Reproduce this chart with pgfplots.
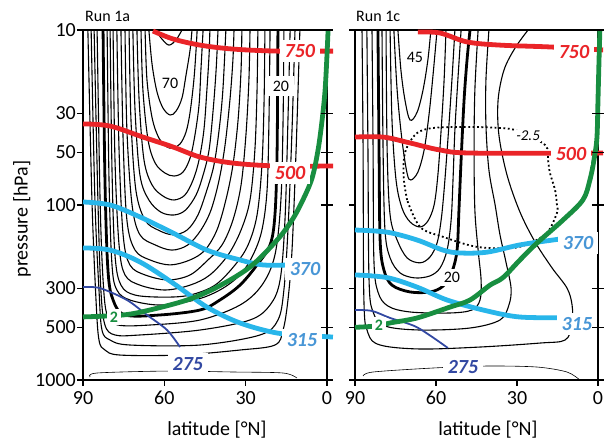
\documentclass[border=0pt]{standalone}
\usepackage{pgfplots}
\pgfplotsset{compat=1.18}
\usepackage{fontspec}
\setmainfont{Carlito}

\definecolor{isored}{RGB}{234,36,40}
\definecolor{isocyan}{RGB}{40,182,234}
\definecolor{isocyantxt}{RGB}{72,150,214}
\definecolor{isonavy}{RGB}{50,72,162}
\definecolor{pvgreen}{RGB}{24,142,64}

\pgfplotsset{
  windcont/.style={black, line width=1.1pt, smooth, tension=0.55},
  windthick/.style={black, line width=2.8pt, smooth, tension=0.55},
  groundline/.style={black, line width=0.6pt, smooth},
  windneg/.style={black, line width=1.8pt, dash pattern=on 1.8pt off 2.6pt, smooth, tension=0.55},
  isentrope/.style={line width=4.8pt, smooth, tension=0.55},
}
\tikzset{
  thetalab/.style={fill=white, inner xsep=5pt, inner ysep=4pt,
    font=\fontsize{20}{24}\selectfont\bfseries\itshape},
  pvlab/.style={fill=white, inner xsep=3pt, inner ysep=3pt, text=pvgreen,
    font=\fontsize{16}{18}\selectfont\bfseries},
  ulab/.style={inner sep=1pt, font=\fontsize{16}{18}\selectfont},
  rtick/.style={line width=1.1pt},
}

\begin{document}
\begin{tikzpicture}
\path (0,0) rectangle (607pt,442pt);

% ---------------- Run 1a ----------------
\begin{axis}[
    at={(83pt,62pt)}, anchor=south west, scale only axis,
    width=244pt, height=350pt,
    xmin=0, xmax=90, x dir=reverse,
    ymode=log, ymin=10, ymax=1000, y dir=reverse,
    xtick={0,30,60,90}, xticklabels={0,30,60,90},
    ytick={10,30,50,100,300,500,1000},
    yticklabels={10,30,50,100,300,500,1000},
    yminorticks=false,
    xtick pos=lower, ytick pos=left,
    tick align=outside, major tick length=6pt,
    axis line style={line width=1.1pt},
    tick style={line width=1.1pt, black},
    tick label style={font=\fontsize{20}{24}\selectfont, inner sep=1pt},
    xticklabel style={yshift=-4pt},
    clip=false]
% zonal wind contours
\addplot[windcont] coordinates {(88.2,10)(86.7,93.6)(85.2,349)(84.1,591)(81.9,674)(76.4,720)(54.2,720)(32.1,674)(19.2,631)(16.2,518)(14.4,349)(12.9,181)(11.4,48.5)(10.0,10)};
\addplot[windcont] coordinates {(87.0,10)(85.6,93.6)(84.1,306)(83.0,518)(80.0,591)(72.7,631)(46.8,631)(24.7,553)(18.1,454)(15.9,306)(14.4,139)(12.9,37.3)(11.8,10)};
\addplot[windcont] coordinates {(85.9,10)(84.5,93.6)(83.4,306)(81.9,485)(78.2,553)(69.0,553)(46.8,518)(28.4,454)(21.0,373)(17.3,268)(15.5,122)(14.4,32.7)(13.6,10)};
\addplot[windcont] coordinates {(84.8,10)(83.7,93.6)(82.6,268)(81.1,425)(77.1,485)(65.3,485)(46.8,454)(32.1,373)(24.0,287)(19.2,193)(17.0,93.6)(16.2,32.7)(15.9,10)};
\addplot[windthick] coordinates {(82.6,10)(81.9,72)(80.8,235)(78.9,349)(74.5,425)(61.6,425)(46.8,398)(39.5,349)(32.1,287)(25.8,220)(21.0,169)(19.2,114)(18.4,48.5)(18.1,10)};
\addplot[windcont] coordinates {(81.1,10)(80.4,72)(79.3,220)(77.5,306)(72.7,349)(61.6,373)(48.7,349)(39.5,306)(32.1,251)(27.3,193)(24.0,139)(22.1,82.1)(21.4,32.7)(21.0,10)};
\addplot[windcont] coordinates {(80.0,10)(79.3,63.1)(78.2,193)(76.0,287)(70.8,327)(59.8,336)(50.5,327)(41.3,287)(33.9,220)(29.1,169)(25.8,114)(24.0,59.1)(23.2,25.1)(22.9,10)};
\addplot[windcont] coordinates {(78.9,10)(78.2,55.3)(76.7,169)(74.5,251)(69.0,287)(59.8,306)(50.5,287)(43.2,251)(36.5,193)(31.7,139)(28.4,93.6)(26.6,48.5)(25.8,22.0)(25.5,10)};
\addplot[windcont] coordinates {(77.5,10)(76.7,48.5)(75.2,148)(72.7,220)(67.1,251)(58.6,268)(50.5,251)(43.9,206)(38.7,169)(34.7,122)(31.7,76.9)(29.9,39.8)(28.8,19.3)(28.4,10)};
\addplot[windcont] coordinates {(76.0,10)(75.2,42.5)(73.8,122)(70.8,181)(65.3,206)(57.9,220)(50.5,206)(45.0,181)(40.6,139)(37.3,93.6)(34.7,59.1)(32.8,32.7)(31.7,16.9)(31.4,10)};
\addplot[windcont] coordinates {(74.5,10)(73.8,37.3)(71.9,100)(69.0,148)(63.4,169)(57.2,181)(51.3,169)(46.5,139)(42.8,107)(39.8,72)(37.6,45.4)(35.8,25.1)(34.7,14.8)(34.3,10)};
\addplot[windcont] coordinates {(73.0,10)(72.3,32.7)(70.5,82.1)(67.1,122)(62.3,139)(56.8,148)(51.6,139)(47.6,114)(44.3,82.1)(41.7,59.1)(39.8,37.3)(38.4,22.0)(37.3,10)};
\addplot[windcont] coordinates {(71.6,10)(70.8,28.7)(69.0,67.4)(65.7,93.6)(61.2,110)(56.4,114)(52.2,107)(48.3,87.7)(45.7,67.4)(43.5,48.5)(42.0,28.7)(40.9,16.9)(40.2,10)};
\addplot[windcont] coordinates {(70.1,10)(69.3,25.1)(67.5,55.3)(64.5,76.9)(60.5,88.9)(56.4,93.6)(52.4,87.7)(49.4,72)(47.2,55.3)(45.4,37.3)(44.3,22.0)(43.5,13.9)(43.2,10)};
\addplot[windcont] coordinates {(68.6,10)(67.9,22.0)(66.0,42.5)(63.4,57.5)(59.8,65.6)(56.4,68.3)(53.1,64.8)(50.5,53.9)(48.7,39.8)(47.2,26.8)(46.5,16.9)(45.7,10)};
\addplot[windcont] coordinates {(67.1,10)(66.4,19.3)(64.5,31.8)(62.0,41.4)(59.0,46.6)(56.8,47.2)(54.2,44.8)(52.0,38.3)(50.5,29.5)(49.1,19.3)(48.3,13.0)(47.9,10)};
\addplot[windcont] coordinates {(65.7,10)(64.5,15.8)(62.7,22.6)(60.5,27.9)(57.9,30.6)(55.7,29.1)(53.5,24.5)(52.0,18.1)(50.5,13.0)(49.8,10)};
\addplot[windcont] coordinates {(63.4,10)(60.9,11.25)(58.3,12.2)(55.7,11.4)(53.5,10)};
\addplot[groundline] coordinates {(87.4,961)(84.8,912)(59.0,889)(34.7,900)(16.2,912)(11.1,974)};
% isentropes and dynamical tropopause
\addplot[isentrope, isored] coordinates {(64.2,10.13)(56.8,11.25)(46.8,12.2)(34.7,12.85)(18.4,13.2)(0,13.2)(-2.2,13.2)};
\addplot[isentrope, isored] coordinates {(90,34.4)(80.0,35.4)(67.9,40.9)(56.8,46.6)(46.8,53.2)(34.7,57.6)(18.4,59.9)(0,59.9)(-2.2,59.9)};
\addplot[isentrope, isocyan] coordinates {(90,96.1)(80.0,100)(69.0,117)(56.8,144.6)(44.3,181)(32.1,206)(23.6,220)(13.6,220)};
\addplot[isentrope, isocyan] coordinates {(90,176)(80.0,181)(69.0,211.5)(56.8,279.5)(44.3,383)(32.1,472)(18.4,539)(5,560)(-2.2,568)};
\addplot[isonavy, line width=1.8pt, smooth] coordinates {(90,294.7)(83.7,298.6)(73.8,349)(66.4,425)(59.0,518)(54.2,648)};
\addplot[isentrope, pvgreen] coordinates {(90,436)(75.2,425)(65.3,398)(51.6,349)(40.6,295)(28.4,226)(18.4,158.5)(12.9,122)(8.9,93.6)(5.5,70.1)(3.3,48.5)(1.8,32.7)(0.7,22)(0,13.9)(-0.4,10)};
% labels
\node[thetalab, text=isored] at (axis cs:10.0,13.2) {750};
\node[thetalab, text=isored] at (axis cs:13.6,65.6) {500};
\node[thetalab, text=isocyantxt] at (axis cs:8.1,232) {370};
\node[thetalab, text=isocyantxt] at (axis cs:9.2,591) {315};
\node[thetalab, text=isonavy] at (axis cs:51.3,810) {275};
\node[pvlab] at (axis cs:78.6,436) {2};
\node[ulab] at (axis cs:57.9,20.1) {70};
\node[ulab, fill=white, inner xsep=5pt, inner ysep=5pt] at (axis cs:17.0,20.9) {20};
% crossing ticks on the right frame
\draw[rtick] (axis cs:0,10) ++(-6pt,0pt) -- ++(12pt,0pt);
\draw[rtick] (axis cs:0,30) ++(-6pt,0pt) -- ++(12pt,0pt);
\draw[rtick] (axis cs:0,50) ++(-6pt,0pt) -- ++(12pt,0pt);
\draw[rtick] (axis cs:0,100) ++(-6pt,0pt) -- ++(12pt,0pt);
\draw[rtick] (axis cs:0,300) ++(-6pt,0pt) -- ++(12pt,0pt);
\draw[rtick] (axis cs:0,500) ++(-6pt,0pt) -- ++(12pt,0pt);
\draw[rtick] (axis cs:0,1000) ++(-6pt,0pt) -- ++(12pt,0pt);
\end{axis}

% ---------------- Run 1c ----------------
\begin{axis}[
    at={(355pt,62pt)}, anchor=south west, scale only axis,
    width=243pt, height=350pt,
    xmin=0, xmax=90, x dir=reverse,
    ymode=log, ymin=10, ymax=1000, y dir=reverse,
    xtick={0,30,60,90}, xticklabels={0,30,60,90},
    ytick={10,30,50,100,300,500,1000},
    yticklabels={},
    yminorticks=false,
    xtick pos=lower, ytick pos=left,
    tick align=outside, major tick length=6pt,
    axis line style={line width=1.1pt},
    tick style={line width=1.1pt, black},
    tick label style={font=\fontsize{20}{24}\selectfont, inner sep=1pt},
    xticklabel style={yshift=-4pt},
    clip=false]
\addplot[windcont] coordinates {(87.4,10)(87.0,48.5)(86.7,349)(85.2,539)(80.7,631)(65.9,665)(43.7,648)(21.5,615)(12.2,591)(9.6,485)(9.6,373)(11.5,298)(17.0,229)(23.3,162.7)(28.9,109.7)(33.7,67.4)(36.7,39.8)(37.0,25.1)(34.8,16.9)(30.7,12.66)(25.9,10)};
\addplot[windcont] coordinates {(85.6,10)(85.2,48.5)(84.8,268)(83.3,408.6)(78.9,491)(65.9,518)(47.4,504.5)(36.3,454)(33.0,373)(32.2,298.6)(34.1,211.5)(36.3,148)(38.1,100)(40.4,63.1)(41.5,34.9)(41.5,19.3)(40.4,10)};
\addplot[windcont] coordinates {(83.7,10)(83.3,48.5)(83.0,206)(81.5,314)(77.8,378)(69.6,408.6)(54.8,414)(46.7,398)(43.7,349)(43.3,268)(44.4,181)(45.6,107)(45.9,48.5)(45.6,22.0)(44.4,10)};
\addplot[windthick] coordinates {(81.5,10)(81.1,48.5)(80.7,158.5)(79.3,235)(76.3,287)(69.6,314)(62.2,314)(57.4,290.8)(54.1,241)(52.2,181)(51.5,107)(50.7,55.3)(49.6,25.1)(48.5,14.8)(47.4,10)};
\addplot[windcont] coordinates {(80.0,10)(79.6,48.5)(78.9,139)(77.0,200.6)(73.3,244.5)(67.8,261)(62.2,254)(58.5,229)(55.9,181)(54.4,122)(53.7,72)(53.0,37.3)(51.9,19.3)(50.7,10)};
\addplot[windcont] coordinates {(78.5,10)(78.1,48.5)(77.0,114)(74.4,158.5)(70.7,200.6)(65.9,214)(62.2,198)(59.6,164.6)(58.1,122)(57.0,82.1)(55.6,42.5)(54.1,19.3)(53.0,10)};
\addplot[windcont] coordinates {(77.0,10)(76.3,32.7)(74.8,72)(72.6,104)(69.6,125)(65.9,133.5)(63.0,123.4)(60.7,100)(59.3,67.4)(58.1,37.3)(57.0,19.3)(56.3,10)};
\addplot[windcont] coordinates {(75.6,10)(74.4,22.0)(72.6,42.5)(70.7,66)(69.3,72)(66.7,64.8)(64.4,48.5)(62.6,30.6)(61.1,18.1)(59.6,10)};
\addplot[windcont] coordinates {(74.1,10)(73.0,16.9)(71.5,25.1)(69.6,32.7)(67.0,29.5)(64.8,22.0)(63.0,14.8)(61.9,10)};
\addplot[groundline] coordinates {(87.0,948)(83.3,900)(61.1,854)(41.1,832)(22.6,843)(11.5,900)(6.7,1000)};
% negative (easterly) contour
\addplot[windneg] coordinates {(70.7,93.6)(71.9,72)(71.9,55.3)(70.7,46.6)(67.0,38.8)(61.1,36.3)(48.5,35.8)(36.3,36.3)(29.6,37.8)(19.6,45.4)(18.5,55.3)(17.8,65.6)(15.9,82.1)(15.2,100)(15.2,111)(18.9,144.6)(25.2,164.9)(31.5,175.8)(44.8,173.5)(57.4,152)(65.9,133.5)(70.7,93.6)};
% isentropes and dynamical tropopause
\addplot[isentrope, isored] coordinates {(66.7,10.27)(58.5,10.4)(48.5,11.7)(36.3,12.2)(17.8,12.5)(-1.9,13.0)};
\addplot[isentrope, isored] coordinates {(90,40.9)(79.6,40.9)(69.6,44.2)(58.5,48.5)(46.3,50.5)(-1.9,50.5)};
\addplot[isentrope, isocyan] coordinates {(90,139)(78.1,143)(67.0,158.5)(57.4,181)(51.1,188)(41.1,186)(28.9,169)(16.7,158.5)(10.4,154)};
\addplot[isentrope, isocyan] coordinates {(90,251)(78.1,260)(67.0,294.7)(55.9,349)(42.6,398)(30.0,435)(16.7,441)(10.4,441)};
\addplot[isonavy, line width=1.8pt, smooth] coordinates {(90,398)(83.7,403)(77.0,442)(67.0,500)(55.6,656)};
\addplot[isentrope, pvgreen] coordinates {(90,500)(81.9,491)(77.0,472)(67.0,442)(54.8,383)(47.4,349)(40.0,287)(35.2,260)(28.9,206)(22.6,165)(13.0,122)(5.6,93.6)(3.0,72)(1.5,55.3)(0.4,41.4)(0,25.1)(-0.4,14.5)(-0.7,10)};
% labels
\node[thetalab, text=isored] at (axis cs:8.9,13.35) {750};
\node[thetalab, text=isored] at (axis cs:10.0,51.1) {500};
\node[thetalab, text=isocyantxt] at (axis cs:7.4,164.6) {370};
\node[thetalab, text=isocyantxt] at (axis cs:7.8,478.7) {315};
\node[thetalab, text=isonavy] at (axis cs:50.0,843) {275};
\node[pvlab] at (axis cs:81.1,485) {2};
\node[ulab] at (axis cs:67.8,14.4) {45};
\node[ulab, fill=white, inner xsep=3pt, inner ysep=3pt] at (axis cs:54.1,260) {20};
\node[ulab, fill=white, font=\fontsize{15}{17}\selectfont\itshape] at (axis cs:25.9,40.3) {-2.5};
% crossing ticks on the right frame
\draw[rtick] (axis cs:0,10) ++(-6pt,0pt) -- ++(12pt,0pt);
\draw[rtick] (axis cs:0,30) ++(-6pt,0pt) -- ++(12pt,0pt);
\draw[rtick] (axis cs:0,50) ++(-6pt,0pt) -- ++(12pt,0pt);
\draw[rtick] (axis cs:0,100) ++(-6pt,0pt) -- ++(12pt,0pt);
\draw[rtick] (axis cs:0,300) ++(-6pt,0pt) -- ++(12pt,0pt);
\draw[rtick] (axis cs:0,500) ++(-6pt,0pt) -- ++(12pt,0pt);
\draw[rtick] (axis cs:0,1000) ++(-6pt,0pt) -- ++(12pt,0pt);
\end{axis}

% titles and axis labels
\node[anchor=base west, font=\fontsize{16}{18}\selectfont, inner sep=0pt] at (85pt,420pt) {Run 1a};
\node[anchor=base west, font=\fontsize{16}{18}\selectfont, inner sep=0pt] at (356pt,420pt) {Run 1c};
\node[rotate=90, font=\fontsize{20}{24}\selectfont, inner sep=0pt] at (22pt,223pt) {pressure [hPa]};
\node[anchor=base, font=\fontsize{20}{24}\selectfont, inner sep=0pt] at (217pt,7pt) {latitude [°N]};
\node[anchor=base, font=\fontsize{20}{24}\selectfont, inner sep=0pt] at (488pt,7pt) {latitude [°N]};
\end{tikzpicture}
\end{document}
